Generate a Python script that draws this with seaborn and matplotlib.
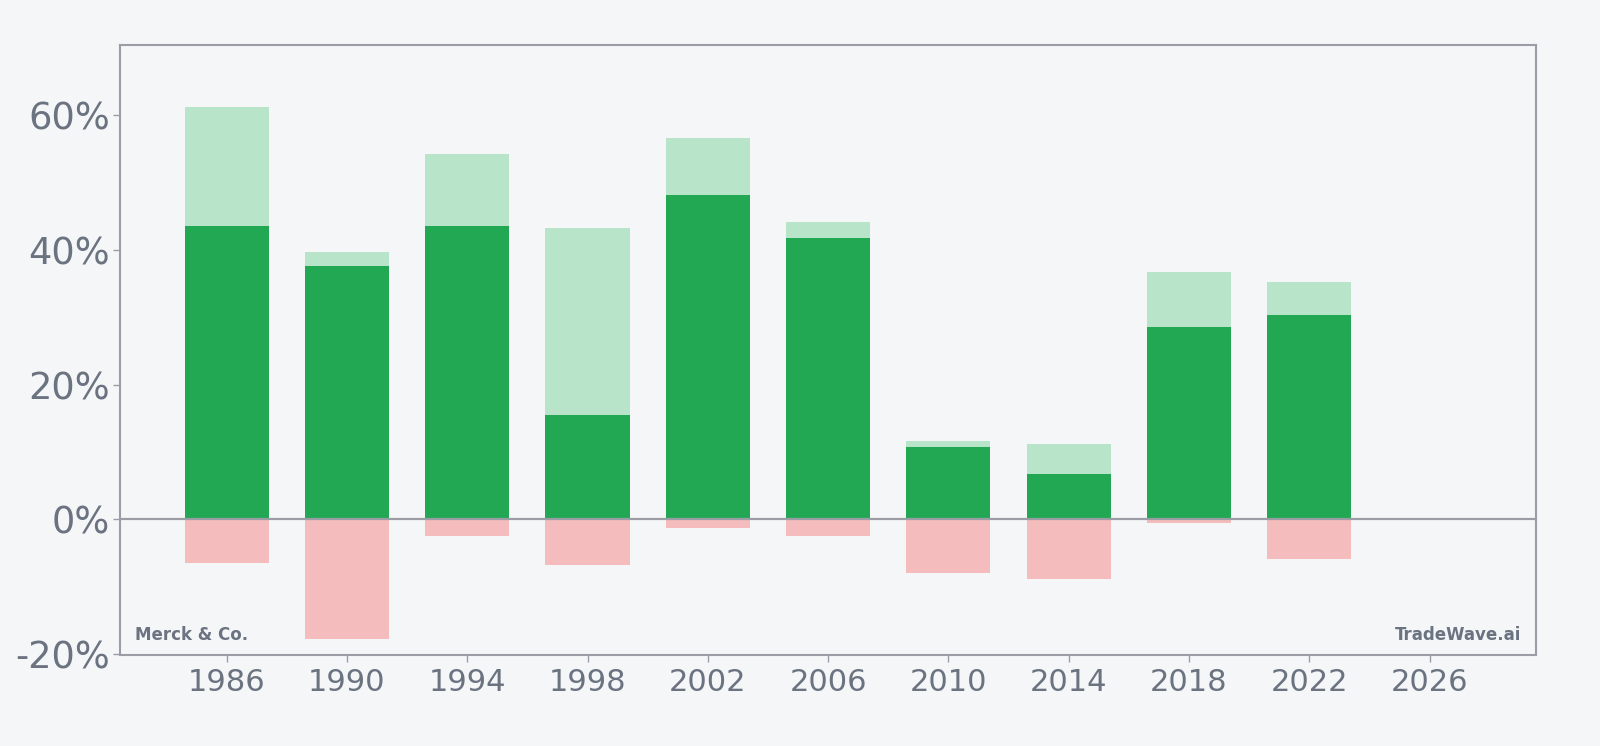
import matplotlib
matplotlib.use("Agg")
import matplotlib.pyplot as plt
import pandas as pd
import seaborn as sns

years = [1986, 1990, 1994, 1998, 2002, 2006, 2010, 2014, 2018, 2022]
close_return = [43.6, 37.7, 43.6, 15.5, 48.2, 41.8, 10.8, 6.7, 28.6, 30.3]
max_return = [61.2, 39.7, 54.2, 43.3, 56.7, 44.2, 11.7, 11.2, 36.7, 35.2]
min_return = [-6.4, -17.7, -2.4, -6.8, -1.2, -2.4, -7.9, -8.9, -0.5, -5.9]
y_ticks = [-20, 0, 20, 40, 60]
x_ticks = [1986, 1990, 1994, 1998, 2002, 2006, 2010, 2014, 2018, 2022, 2026]

df = pd.DataFrame({"year": years, "close": close_return, "max": max_return, "min": min_return})

bg = "#f4f6f8"
text_col = "#6b7280"
edge_col = "#9a9ca6"

sns.set_style("white")
plt.rcParams["font.family"] = ["DejaVu Sans"]

fig = plt.figure(figsize=(16, 7.46), dpi=100, facecolor=bg)
ax = fig.add_axes([0.0753, 0.1217, 0.8845, 0.8181])
ax.set_facecolor(bg)

# light = period high, dark = period close, red = period low
sns.barplot(data=df, x="year", y="max", native_scale=True, width=0.7,
            color="#b8e4c9", saturation=1, linewidth=0, ax=ax)
sns.barplot(data=df, x="year", y="close", native_scale=True, width=0.7,
            color="#22a852", saturation=1, linewidth=0, ax=ax)
sns.barplot(data=df, x="year", y="min", native_scale=True, width=0.7,
            color="#f4bcbc", saturation=1, linewidth=0, ax=ax)

ax.axhline(0, color=edge_col, lw=1.6, zorder=3)

ax.set_xlim(1982.47, 2029.53)
ax.set_ylim(-20.15, 70.45)
ax.set_xticks(x_ticks)
ax.set_xticklabels([str(x) for x in x_ticks])
ax.set_yticks(y_ticks)
ax.set_yticklabels([f"{v}%" for v in y_ticks])
ax.set_xlabel("")
ax.set_ylabel("")

ax.tick_params(axis="x", labelsize=22, colors=edge_col, labelcolor=text_col,
               length=5, width=1, pad=4, direction="out", bottom=True)
ax.tick_params(axis="y", labelsize=26.5, colors=edge_col, labelcolor=text_col,
               length=5, width=1, pad=2.5, direction="out", left=True)

for s in ax.spines.values():
    s.set_color(edge_col)
    s.set_linewidth(1.5)

ax.text(0.01, 0.025, "Merck & Co.", transform=ax.transAxes, fontsize=12,
        fontweight="bold", color=text_col, ha="left", va="baseline")
ax.text(0.99, 0.025, "TradeWave.ai", transform=ax.transAxes, fontsize=12,
        fontweight="bold", color=text_col, ha="right", va="baseline")

fig.savefig("out.png", dpi=100, facecolor=bg)
